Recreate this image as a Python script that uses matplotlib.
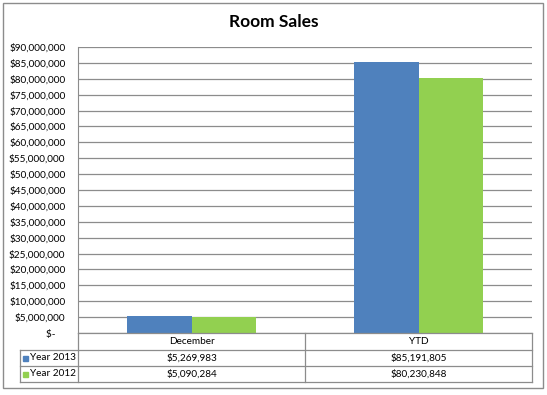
import numpy as np
import matplotlib.pyplot as plt
from matplotlib.patches import Rectangle

categories = ['December', 'YTD']
series_names = ['Year 2013', 'Year 2012']
year_2013 = [5269983, 85191805]
year_2012 = [5090284, 80230848]
colors = ['#4F81BD', '#92D050']

W, H = 547, 395
fig = plt.figure(figsize=(W / 100, H / 100), dpi=100)
plt.rcParams['font.family'] = ['Lato', 'DejaVu Sans']

# plot area in pixels
left, right, top, bottom = 78, 532, 47, 333
ax = fig.add_axes([left / W, 1 - bottom / H, (right - left) / W, (bottom - top) / H])

x = np.arange(len(categories))
w = 0.282
ax.bar(x - w / 2, year_2013, w, color=colors[0], zorder=3)
ax.bar(x + w / 2, year_2012, w, color=colors[1], zorder=3)

ax.set_xlim(-0.5, len(categories) - 0.5)
ax.set_ylim(0, 90000000)
yt = np.arange(0, 90000001, 5000000)
ax.set_yticks(yt)
ax.set_yticklabels(['$-    '] + ['${:,.0f}'.format(v) for v in yt[1:]], fontsize=7.2)
ax.tick_params(axis='y', length=0, pad=9)
ax.set_xticks([])
ax.grid(axis='y', color='#8c8c8c', linewidth=0.9, zorder=0)
for s in ['top', 'right', 'bottom']:
    ax.spines[s].set_visible(False)
ax.spines['left'].set_color('#8c8c8c')

# overlay in pixel coordinates for title, table, border
ov = fig.add_axes([0, 0, 1, 1], zorder=-1)
ov.set_xlim(0, W)
ov.set_ylim(H, 0)
ov.axis('off')
ov.add_patch(Rectangle((3, 3), 540, 385, fill=False, edgecolor='#8c8c8c', linewidth=1))
ov.text(W / 2, 22, 'Room Sales', ha='center', va='center', fontsize=12.5, fontweight='bold')

tab = fig.add_axes([0, 0, 1, 1], zorder=5)
tab.set_xlim(0, W)
tab.set_ylim(H, 0)
tab.axis('off')
gc = '#8c8c8c'
rows = [333, 350, 366, 382]
leg_left = 20
mid = (left + right) / 2
# table lines
tab.plot([left, right], [rows[0], rows[0]], color=gc, lw=0.9)
for r in rows[1:]:
    tab.plot([leg_left, right], [r, r], color=gc, lw=0.9)
tab.plot([left, left], [rows[0], rows[3]], color=gc, lw=0.9)
tab.plot([leg_left, leg_left], [rows[1], rows[3]], color=gc, lw=0.9)
tab.plot([mid, mid], [rows[0], rows[3]], color=gc, lw=0.9)
tab.plot([right, right], [rows[0], rows[3]], color=gc, lw=0.9)

centers = [(left + mid) / 2, (mid + right) / 2]
for c, name in zip(centers, categories):
    tab.text(c, (rows[0] + rows[1]) / 2, name, ha='center', va='center', fontsize=7.2)

for i, (name, vals) in enumerate(zip(series_names, [year_2013, year_2012])):
    yc = (rows[i + 1] + rows[i + 2]) / 2
    tab.add_patch(Rectangle((23, yc - 2.5), 5, 5, color=colors[i]))
    tab.text(30, yc, name, ha='left', va='center', fontsize=7.2)
    for c, v in zip(centers, vals):
        tab.text(c, yc, '${:,.0f}'.format(v), ha='center', va='center', fontsize=7.2)

fig.savefig('out.png', dpi=100)
